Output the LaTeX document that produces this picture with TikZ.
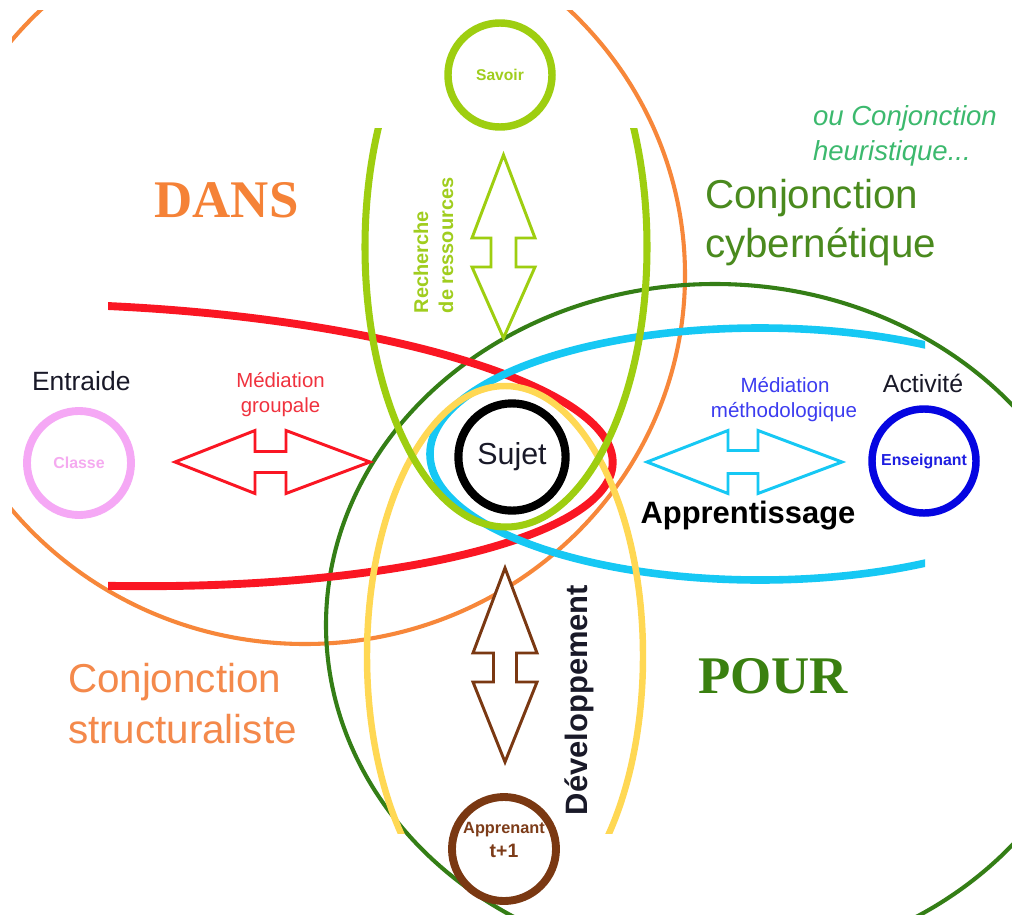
\documentclass[tikz,border=0pt]{standalone}
\usepackage{fontspec}
\setmainfont{Liberation Sans}
\newfontfamily\serifbf{Liberation Serif}
\definecolor{cOrange}{RGB}{247,135,58}
\definecolor{cRed}{RGB}{250,22,35}
\definecolor{cLime}{RGB}{158,206,16}
\definecolor{cDkGreen}{RGB}{52,126,22}
\definecolor{cCyan}{RGB}{22,200,244}
\definecolor{cYellow}{RGB}{255,216,84}
\definecolor{cPink}{RGB}{245,168,245}
\definecolor{cBlue}{RGB}{5,5,225}
\definecolor{cBrown}{RGB}{122,56,18}
\definecolor{tDans}{RGB}{245,130,55}
\definecolor{tPour}{RGB}{58,128,16}
\definecolor{tCyber}{RGB}{74,138,30}
\definecolor{tHeur}{RGB}{60,185,110}
\definecolor{tStruct}{RGB}{244,137,75}
\definecolor{tMedG}{RGB}{240,50,62}
\definecolor{tMedM}{RGB}{60,60,240}
\definecolor{tEns}{RGB}{30,30,225}
\definecolor{tBrown}{RGB}{125,60,25}
\definecolor{tLime}{RGB}{160,205,30}
\definecolor{tPink}{RGB}{245,170,240}
\definecolor{tDark}{RGB}{25,25,40}
% horizontal double block arrow: style, left tip, base1, base2, right tip, y, head half width, shaft half width
\newcommand{\HArrow}[8]{\draw[#1] (#2,#6) -- (#3,#6-#7) -- (#3,#6-#8) -- (#4,#6-#8) -- (#4,#6-#7) -- (#5,#6) -- (#4,#6+#7) -- (#4,#6+#8) -- (#3,#6+#8) -- (#3,#6+#7) -- cycle;}
% vertical double block arrow: style, top tip, base1, base2, bottom tip, x, head half width, shaft half width
\newcommand{\VArrow}[8]{\draw[#1] (#6,#2) -- (#6-#7,#3) -- (#6-#8,#3) -- (#6-#8,#4) -- (#6-#7,#4) -- (#6,#5) -- (#6+#7,#4) -- (#6+#8,#4) -- (#6+#8,#3) -- (#6+#7,#3) -- cycle;}
\begin{document}
\begin{tikzpicture}[x=0.025cm,y=-0.025cm,
  lbl/.style={inner sep=0pt, outer sep=0pt},
  ring/.style={draw, circle, line width=5.3pt, inner sep=0pt, minimum size=2.6cm},
  arr/.style={line width=2.1pt, line join=miter, fill=white}]
\useasboundingbox (0,0) rectangle (1012,914);
\fill[white] (0,0) rectangle (1012,914);

% big shapes
\begin{scope}
  \clip (12,10) rectangle (1012,914);
  \draw[cOrange, line width=2.9pt] (305,275) ellipse [x radius=380, y radius=369];
\end{scope}
\begin{scope}
  \clip (0,0) rectangle (1012,914);
  \draw[cDkGreen, line width=2.9pt] (715,625) ellipse [x radius=389, y radius=341];
\end{scope}
\begin{scope}
  \clip (108,0) rectangle (1012,914);
  \draw[cRed, line width=5.6pt, rotate around={-2:(80,445)}] (80,445) ellipse [x radius=533, y radius=140];
\end{scope}
\begin{scope}
  \clip (0,0) rectangle (925,914);
  \draw[cCyan, line width=5.4pt] (760,454) ellipse [x radius=330, y radius=126];
\end{scope}
\begin{scope}
  \clip (0,0) rectangle (1012,833);
  \draw[cYellow, line width=4.6pt] (505,656) ellipse [x radius=138, y radius=270];
\end{scope}
\begin{scope}
  \clip (0,128) rectangle (1012,914);
  \draw[cLime, line width=5pt] (506,247) ellipse [x radius=141, y radius=280];
\end{scope}

% circles
\node[ring, draw=cLime, text=tLime, font=\fontsize{11.1}{12}\selectfont\bfseries] (savoir) at (500,75) {Savoir};
\node[ring, draw=cPink, line width=5.6pt, text=tPink, font=\fontsize{11.3}{12}\selectfont\bfseries] (classe) at (79,463) {Classe};
\node[ring, draw=black, line width=5.8pt, minimum size=2.68cm, text=tDark, font=\fontsize{21.6}{24}\selectfont] (sujet) at (512,457) {Sujet};
\node[ring, draw=cBlue, text=tEns, font=\fontsize{11.3}{12}\selectfont\bfseries] (ens) at (924,461) {Enseignant};
\node[ring, draw=cBrown, line width=5.6pt] (appr) at (504,849) {};

% block arrows
\VArrow{arr, draw=cLime}{155}{238}{267}{338}{503.5}{31.5}{12.5}
\HArrow{arr, draw=cRed}{175}{255}{286}{370}{462}{31.5}{10.5}
\HArrow{arr, draw=cCyan}{647}{728}{758}{842}{462}{31.5}{11.5}
\VArrow{arr, draw=cBrown}{568}{653}{682}{762}{505}{32}{11.5}

% texts
\node[lbl, anchor=base, text=tDans, font=\serifbf\fontsize{37.6}{40}\selectfont\bfseries] (dans) at (226.5,217) {DANS};
\node[lbl, anchor=base, text=tPour, font=\serifbf\fontsize{37.6}{40}\selectfont\bfseries] (pour) at (773,693) {POUR};

\node[lbl, anchor=base west, text=tCyber, font=\fontsize{28.7}{30}\selectfont] (cyb1) at (705,208) {Conjonction};
\node[lbl, anchor=base west, text=tCyber, font=\fontsize{28.7}{30}\selectfont] (cyb2) at (705,257) {cybernétique};
\node[lbl, anchor=base west, text=tHeur, font=\fontsize{19.6}{22}\selectfont\itshape] (heu1) at (813,125) {ou Conjonction};
\node[lbl, anchor=base west, text=tHeur, font=\fontsize{19.6}{22}\selectfont\itshape] (heu2) at (813,160) {heuristique...};
\node[lbl, anchor=base west, text=tStruct, font=\fontsize{28.7}{30}\selectfont] (str1) at (68,692) {Conjonction};
\node[lbl, anchor=base west, text=tStruct, font=\fontsize{28.7}{30}\selectfont] (str2) at (68,743) {structuraliste};

\node[lbl, anchor=base west, text=tDark, font=\fontsize{18.8}{20}\selectfont] (entraide) at (32,390) {Entraide};
\node[lbl, anchor=base, text=tMedG, font=\fontsize{14.5}{16}\selectfont] (medg1) at (280.5,387) {Médiation};
\node[lbl, anchor=base, text=tMedG, font=\fontsize{14.5}{16}\selectfont] (medg2) at (280.5,412) {groupale};
\node[lbl, anchor=base, text=tMedM, font=\fontsize{14.6}{16}\selectfont] (medm1) at (785,392) {Médiation};
\node[lbl, anchor=base, text=tMedM, font=\fontsize{14.6}{16}\selectfont] (medm2) at (784,417) {méthodologique};
\node[lbl, anchor=base, text=tDark, font=\fontsize{17.7}{19}\selectfont] (activite) at (923,392) {Activité};
\node[lbl, anchor=base, text=black, font=\fontsize{22}{24}\selectfont\bfseries] (apprent) at (748,523) {Apprentissage};
\node[lbl, anchor=base, rotate=90, text=tDark, font=\fontsize{22}{24}\selectfont\bfseries] (devel) at (587,700) {Développement};
\node[lbl, anchor=base west, rotate=90, text=tLime, font=\fontsize{14.2}{16}\selectfont\bfseries] (rech1) at (428,313) {Recherche};
\node[lbl, anchor=base west, rotate=90, text=tLime, font=\fontsize{14.2}{16}\selectfont\bfseries] (rech2) at (453,313) {de ressources};
\node[lbl, anchor=base, text=tBrown, font=\fontsize{11.6}{12}\selectfont\bfseries] (appr1) at (504,833) {Apprenant};
\node[lbl, anchor=base, text=tBrown, font=\fontsize{13.8}{14}\selectfont\bfseries] (appr2) at (504,857) {t+1};
\end{tikzpicture}
\end{document}
